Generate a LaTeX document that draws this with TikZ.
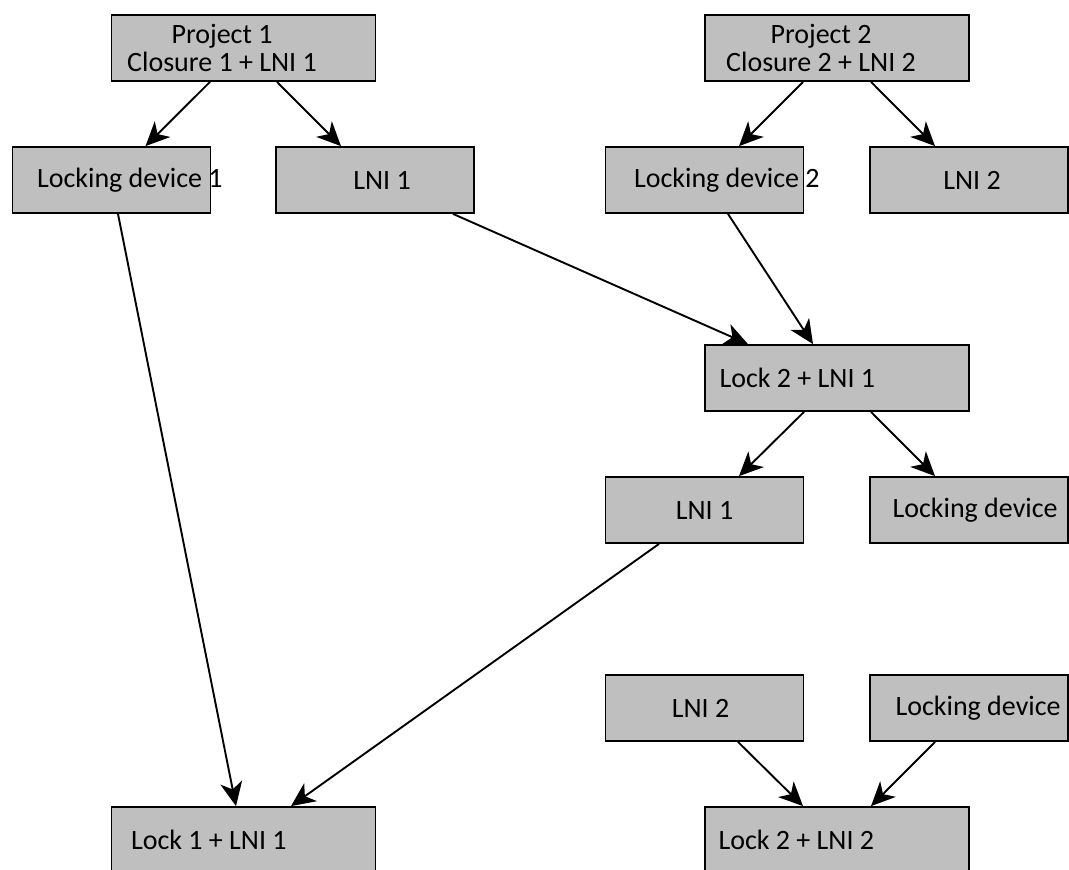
\documentclass[tikz,border=0pt]{standalone}
\usepackage{fontspec}
\setmainfont{Carlito}
\usetikzlibrary{arrows.meta}

\begin{document}
\begin{tikzpicture}[
        x=0.5pt,
        y=-0.5pt,
        box/.style={
            rectangle,
            draw=black,
            fill=black!25,
            line width=0.9pt,
            minimum height=33pt,
            inner sep=0pt
        },
        widebox/.style={
            box,
            minimum width=132pt
        },
        smallbox/.style={
            box,
            minimum width=99pt
        },
        every label/.style={
            inner sep=0pt,
            font=\fontsize{14}{14}\selectfont,
            align=center
        },
        lefttext/.style={
            anchor=west
        },
        link/.style={
            line width=0.95pt,
            -{Stealth[length=12pt, width=11pt, inset=3.5pt]}
        }
    ]

    \useasboundingbox (0,0) rectangle (1069,869);
    \clip (0,0) rectangle (1069,869);

    % Proyectos
    \node[widebox,label={[xshift=-10.75pt]center:Project 1\\Closure 1 + LNI 1}]
        (proj1) at (243.5,48) {};

    \node[widebox,label={[xshift=-8pt]center:Project 2\\Closure 2 + LNI 2}]
        (proj2) at (837,48) {};

    % Primer nivel
    \node[smallbox,label={[lefttext,xshift=12.5pt]west:Locking device 1}]
        (dev1) at (111.5,180) {};

    \node[smallbox,label={[xshift=3.5pt]center:LNI 1}]
        (lni1) at (375,180) {};

    \node[smallbox,label={[lefttext,xshift=14.5pt]west:Locking device 2}]
        (dev2) at (704.5,180) {};

    \node[smallbox,label={[xshift=1.5pt]center:LNI 2}]
        (lni2) at (969,180) {};

    % Cierre 2 con LNI 1
    \node[widebox,label={[lefttext,xshift=7.5pt]west:Lock 2 + LNI 1}]
        (lock2a) at (837,378) {};

    \node[smallbox,label={center:LNI 1}]
        (lni1b) at (704.5,510) {};

    \node[smallbox,label={[lefttext,xshift=11.5pt]west:Locking device}]
        (devb) at (969,510) {};

    % Parte inferior
    \node[smallbox,label={[xshift=-2pt]center:LNI 2}]
        (lni2b) at (704.5,708) {};

    \node[smallbox,label={[lefttext,xshift=13pt]west:Locking device}]
        (devc) at (969,708) {};

    \node[widebox,label={[lefttext,xshift=10pt]west:Lock 1 + LNI 1}]
        (lock1a) at (243.5,840) {};

    \node[widebox,label={[lefttext,xshift=7pt]west:Lock 2 + LNI 2}]
        (lock2b) at (837,840) {};

    % Flechas
    \draw[link] ([xshift=-16.75pt]proj1.south) -- ([xshift=17pt]dev1.north);
    \draw[link] ([xshift=16.75pt]proj1.south) -- ([xshift=-17pt]lni1.north);
    \draw[link] ([xshift=-17pt]proj2.south) -- ([xshift=17.25pt]dev2.north);
    \draw[link] ([xshift=17pt]proj2.south) -- ([xshift=-17pt]lni2.north);

    \draw[link] ([xshift=39pt]lni1.south) -- ([xshift=-44.5pt]lock2a.north);
    \draw[link] ([xshift=11.75pt]dev2.south) -- ([xshift=-12pt]lock2a.north);

    \draw[link] ([xshift=-16.5pt]lock2a.south) -- ([xshift=17.25pt]lni1b.north);
    \draw[link] ([xshift=17pt]lock2a.south) -- ([xshift=-17pt]devb.north);

    \draw[link] ([xshift=3.25pt]dev1.south) -- ([xshift=-3.75pt]lock1a.north);
    \draw[link] ([xshift=-22.75pt]lni1b.south) -- ([xshift=23.75pt]lock1a.north);

    \draw[link] ([xshift=16.75pt]lni2b.south) -- ([xshift=-17pt]lock2b.north);
    \draw[link] ([xshift=-17pt]devc.south) -- ([xshift=17pt]lock2b.north);

\end{tikzpicture}
\end{document}
